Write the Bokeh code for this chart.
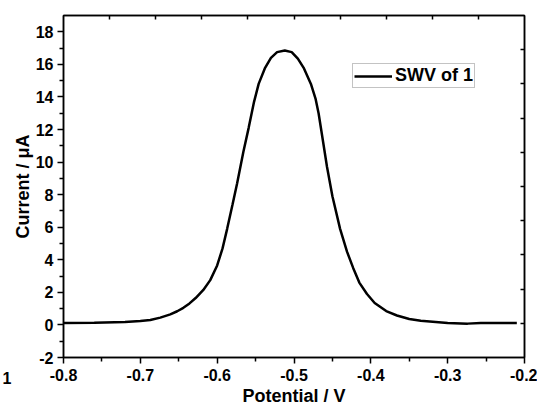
from bokeh.plotting import figure
from bokeh.models import LinearAxis, FixedTicker, Range1d, Label, CustomJSTickFormatter
from bokeh.embed import file_html
from bokeh.resources import INLINE

# Data (SWV of 1)
potential = [-0.800, -0.760, -0.720, -0.700, -0.687, -0.674, -0.661, -0.652, -0.644,
             -0.636, -0.628, -0.618, -0.609, -0.600, -0.593, -0.587, -0.580, -0.574,
             -0.566, -0.559, -0.552, -0.546, -0.538, -0.530, -0.522, -0.512, -0.503,
             -0.495, -0.487, -0.478, -0.472, -0.468, -0.462, -0.457, -0.450, -0.440,
             -0.431, -0.423, -0.415, -0.405, -0.395, -0.380, -0.366, -0.350, -0.335,
             -0.300, -0.274, -0.257, -0.210]
current = [0.12, 0.13, 0.18, 0.24, 0.30, 0.45, 0.65, 0.84, 1.05,
           1.32, 1.65, 2.15, 2.75, 3.65, 4.7, 5.9, 7.4, 8.7,
           10.6, 12.1, 13.7, 14.8, 15.75, 16.4, 16.75, 16.85, 16.75,
           16.35, 15.75, 14.8, 13.9, 13.0, 11.2, 9.7, 7.9, 5.9,
           4.5, 3.5, 2.6, 1.9, 1.35, 0.85, 0.58, 0.36, 0.25,
           0.12, 0.08, 0.12, 0.12]

x_ticks = [-0.8, -0.7, -0.6, -0.5, -0.4, -0.3, -0.2]
x_minor = [-0.75, -0.65, -0.55, -0.45, -0.35, -0.25]
y_ticks = [-2, 0, 2, 4, 6, 8, 10, 12, 14, 16, 18]
y_minor = [-1, 1, 3, 5, 7, 9, 11, 13, 15, 17]
top_marks = [-0.74, -0.68, -0.62, -0.56, -0.50, -0.44, -0.38, -0.32, -0.26]
right_marks = [0.1, 2.2, 4.3, 6.4, 8.5, 10.6, 12.7, 14.8, 16.9]

FONT = "Liberation Sans"

p = figure(frame_width=461, frame_height=342, output_backend="svg", toolbar_location=None,
           x_range=Range1d(-0.8, -0.2), y_range=Range1d(-2, 19),
           min_border_left=63, min_border_top=15, min_border_right=13, min_border_bottom=50)
p.grid.visible = False
p.outline_line_color = "black"
p.outline_line_width = 1.5
p.background_fill_color = "white"
p.border_fill_color = "white"

p.line(potential, current, line_color="black", line_width=2.5, legend_label="SWV of 1")

xa = p.xaxis[0]
xa.ticker = FixedTicker(ticks=x_ticks, minor_ticks=x_minor)
xa.formatter = CustomJSTickFormatter(code="return tick.toFixed(1);")
xa.axis_label = "Potential / V"
ya = p.yaxis[0]
ya.ticker = FixedTicker(ticks=y_ticks, minor_ticks=y_minor)
ya.formatter = CustomJSTickFormatter(code="return tick.toFixed(0);")
ya.axis_label = "Current / \u03bcA"
for ax in (xa, ya):
    ax.axis_line_width = 1.5
    ax.axis_line_color = "black"
    ax.major_tick_line_width = 1.5
    ax.minor_tick_line_width = 1.5
    ax.major_tick_in = 0
    ax.major_tick_out = 6
    ax.minor_tick_in = 0
    ax.minor_tick_out = 4
    ax.major_label_text_font = FONT
    ax.major_label_text_font_style = "bold"
    ax.major_label_text_font_size = "16px"
    ax.major_label_text_color = "black"
    ax.axis_label_text_font = FONT
    ax.axis_label_text_font_style = "bold"
    ax.axis_label_text_font_size = "18px"
    ax.axis_label_text_color = "black"
xa.major_label_standoff = 5
xa.axis_label_standoff = 2
ya.major_label_standoff = 4
ya.axis_label_standoff = 0

top = LinearAxis(ticker=FixedTicker(ticks=[], minor_ticks=top_marks))
right = LinearAxis(ticker=FixedTicker(ticks=[], minor_ticks=right_marks))
for ax in (top, right):
    ax.axis_line_width = 1.5
    ax.axis_line_color = "black"
    ax.major_tick_in = 0
    ax.major_tick_out = 0
    ax.minor_tick_in = 4
    ax.minor_tick_out = 0
    ax.minor_tick_line_width = 1.5
    ax.major_label_standoff = 0
p.add_layout(top, "above")
p.add_layout(right, "right")

lg = p.legend[0]
lg.location = (289, 269)
lg.label_text_font = FONT
lg.label_text_font_style = "bold"
lg.label_text_font_size = "18px"
lg.label_text_color = "black"
lg.glyph_width = 38
lg.glyph_height = 14
lg.label_height = 14
lg.label_standoff = 3
lg.padding = 1
lg.margin = 0
lg.spacing = 0
lg.border_line_color = "#888888"
lg.border_line_width = 1
lg.background_fill_alpha = 1

p.add_layout(Label(x=2, y=-26, x_units="screen", y_units="screen", text="1",
                   text_font=FONT, text_font_style="bold", text_font_size="16px",
                   text_color="black"), "left")

open("out.html", "w").write(file_html(p, INLINE))
